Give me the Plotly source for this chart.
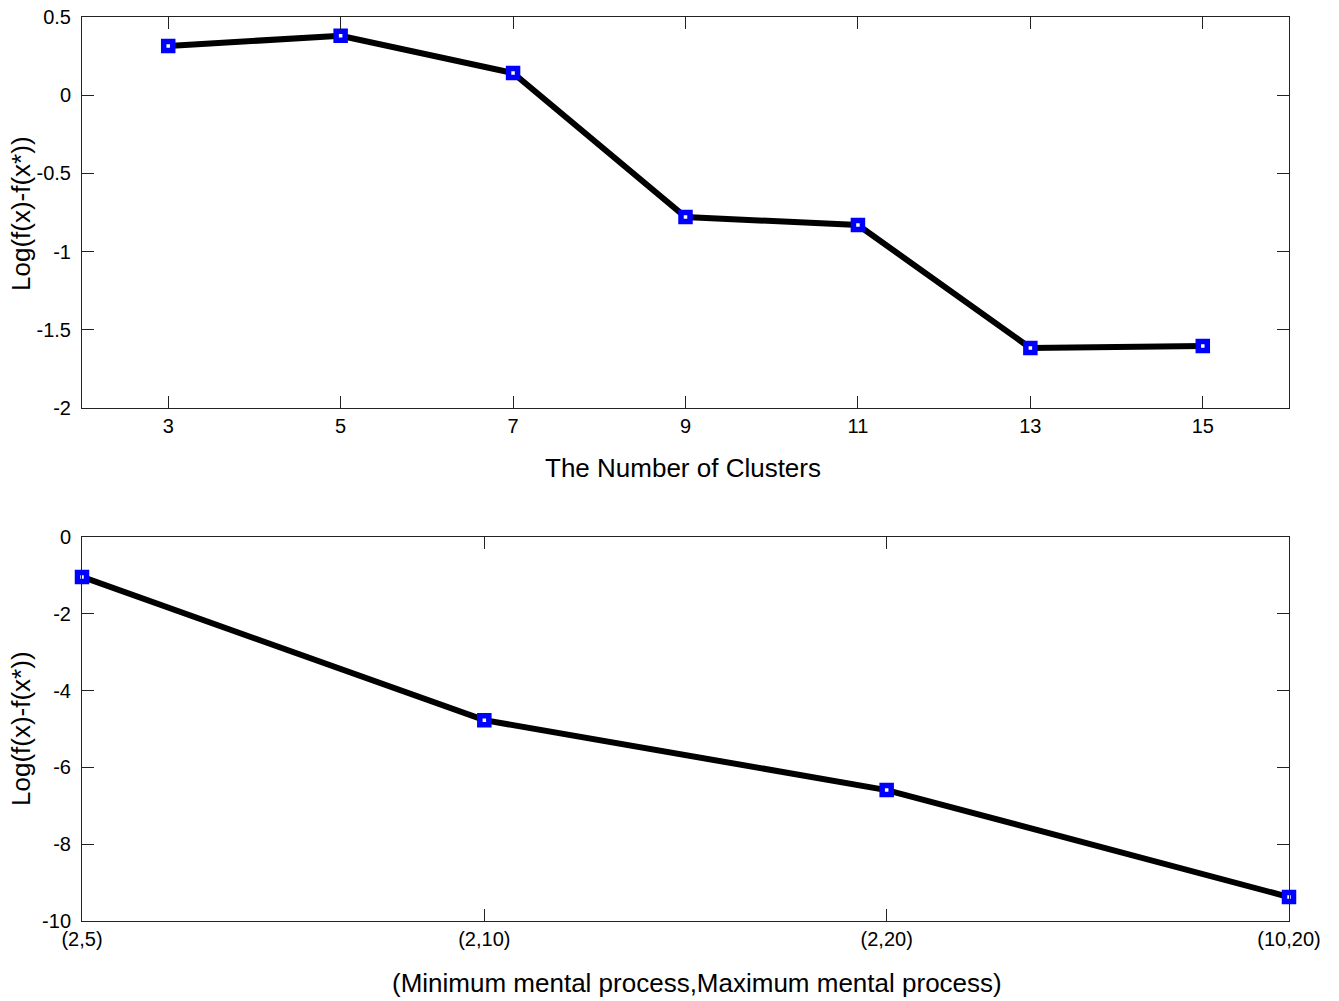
import plotly.graph_objects as go

# Top panel: objective gap vs number of clusters
clusters = [3, 5, 7, 9, 11, 13, 15]
gap_clusters = [0.315, 0.38, 0.142, -0.779, -0.83, -1.616, -1.604]

# Bottom panel: objective gap vs (min, max) mental process
process_labels = ["(2,5)", "(2,10)", "(2,20)", "(10,20)"]
process_pos = [1, 2, 3, 4]
gap_process = [-1.04, -4.77, -6.59, -9.375]

y_title = "Log(f(x)-f(x*))"
x_title_top = "The Number of Clusters"
x_title_bottom = "(Minimum mental process,Maximum mental process)"

W, H = 1339, 1001
FONT = "Liberation Sans, Arial, sans-serif"

line_style = dict(color="black", width=6)
marker_style = dict(symbol="square", size=9, color="white",
                    line=dict(color="#0000ff", width=5.5))

fig = go.Figure()
fig.add_trace(go.Scatter(x=clusters, y=gap_clusters, mode="lines+markers",
                         line=line_style, marker=marker_style,
                         xaxis="x", yaxis="y", cliponaxis=False, showlegend=False))
fig.add_trace(go.Scatter(x=process_pos, y=gap_process, mode="lines+markers",
                         line=line_style, marker=marker_style,
                         xaxis="x2", yaxis="y2", cliponaxis=False, showlegend=False))

xdom = [82 / W, 1289 / W]
top_dom = [1 - 408 / H, 1 - 17 / H]
bot_dom = [1 - 921 / H, 1 - 537 / H]

axis_common = dict(showline=True, linecolor="#222", linewidth=1, mirror="ticks",
                   ticks="inside", ticklen=12, tickcolor="#222", tickwidth=1,
                   showgrid=False, zeroline=False, automargin=False,
                   tickfont=dict(family=FONT, size=20, color="black"))

fig.update_layout(
    template="none",
    width=W, height=H,
    margin=dict(l=0, r=0, t=0, b=0, pad=0),
    paper_bgcolor="white", plot_bgcolor="white",
    xaxis=dict(domain=xdom, range=[2, 16], tickvals=clusters,
               ticktext=[str(c) for c in clusters], anchor="y",
               ticklabelstandoff=0, **axis_common),
    yaxis=dict(domain=top_dom, range=[-2, 0.5],
               tickvals=[-2, -1.5, -1, -0.5, 0, 0.5],
               ticktext=["-2", "-1.5", "-1", "-0.5", "0", "0.5"], anchor="x",
               ticklabelstandoff=6, **axis_common),
    xaxis2=dict(domain=xdom, range=[1, 4], tickvals=process_pos,
                ticktext=process_labels, anchor="y2",
                ticklabelstandoff=0, **axis_common),
    yaxis2=dict(domain=bot_dom, range=[-10, 0],
                tickvals=[-10, -8, -6, -4, -2, 0],
                ticktext=["-10", "-8", "-6", "-4", "-2", "0"], anchor="x2",
                ticklabelstandoff=6, **axis_common),
    annotations=[
        dict(text=x_title_top, x=683 / W, y=1 - 468 / H, xref="paper", yref="paper",
             showarrow=False, xanchor="center", yanchor="middle",
             font=dict(family=FONT, size=26, color="black")),
        dict(text=x_title_bottom, x=697 / W, y=1 - 983 / H, xref="paper", yref="paper",
             showarrow=False, xanchor="center", yanchor="middle",
             font=dict(family=FONT, size=26, color="black")),
        dict(text=y_title, x=21 / W, y=1 - 214 / H, xref="paper", yref="paper",
             showarrow=False, textangle=-90, xanchor="center", yanchor="middle",
             font=dict(family=FONT, size=26, color="black")),
        dict(text=y_title, x=21 / W, y=1 - 729 / H, xref="paper", yref="paper",
             showarrow=False, textangle=-90, xanchor="center", yanchor="middle",
             font=dict(family=FONT, size=26, color="black")),
    ],
)

fig.write_html("out.html")
